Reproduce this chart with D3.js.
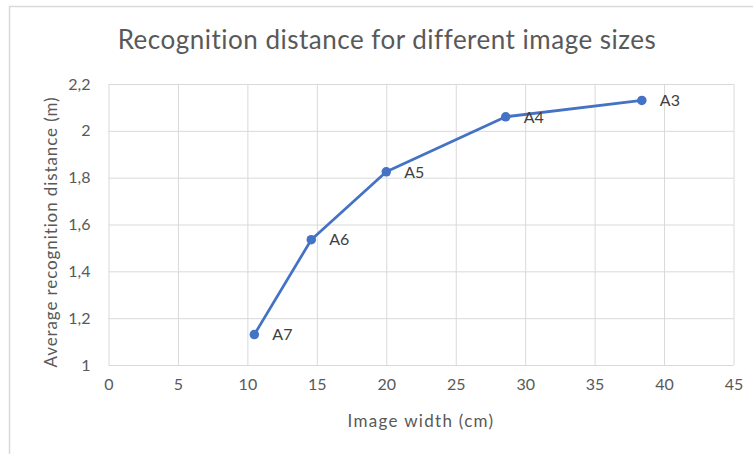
<!DOCTYPE html>
<html>
<head>
	<meta charset="utf-8">
	<script src="https://cdn.jsdelivr.net/npm/d3@7/dist/d3.min.js"></script>
	<title>Recognition distance</title>
	<style>
		body { margin: 0; background: #fff; }
		text { font-family: Lato, "Open Sans", sans-serif; }
	</style>
</head>
<body>
<script>
	// data
	var sizeNames = ['A7', 'A6', 'A5', 'A4', 'A3'];
	var imageWidth = [10.5, 14.6, 20.0, 28.6, 38.4];
	var recognitionDistance = [1.13, 1.535, 1.825, 2.06, 2.13];
	var xTicks = [0, 5, 10, 15, 20, 25, 30, 35, 40, 45];
	var yTicks = [1, 1.2, 1.4, 1.6, 1.8, 2, 2.2];

	var svgWidth = 753, svgHeight = 454;
	var plotLeft = 108.5, plotRight = 733.5, plotTop = 84, plotBottom = 365;

	var svg = d3.select('body').append('svg')
		.attr('width', svgWidth)
		.attr('height', svgHeight);

	// chart frame (only top & left edge visible in the crop)
	svg.append('path')
		.attr('d', 'M9.5,' + svgHeight + 'V6.5H' + svgWidth)
		.attr('fill', 'none')
		.attr('stroke', '#d9d9d9')
		.attr('stroke-width', 1.5);

	var xScale = d3.scaleLinear().domain([0, 45]).range([plotLeft, plotRight]);
	var yScale = d3.scaleLinear().domain([1, 2.2]).range([plotBottom, plotTop]);

	var comma = d3.formatLocale({ decimal: ',', thousands: '.', grouping: [3], currency: ['', ''] }).format('~g');

	// gridlines
	svg.append('g')
		.attr('transform', 'translate(0,' + plotBottom + ')')
		.call(d3.axisBottom(xScale).tickValues(xTicks).tickSize(-(plotBottom - plotTop)).tickFormat(''))
		.call(function (g) {
			g.select('.domain').remove();
			g.selectAll('line').attr('stroke', '#d9d9d9');
		});

	svg.append('g')
		.attr('transform', 'translate(' + plotLeft + ',0)')
		.call(d3.axisLeft(yScale).tickValues(yTicks).tickSize(-(plotRight - plotLeft)).tickFormat(''))
		.call(function (g) {
			g.select('.domain').remove();
			g.selectAll('line').attr('stroke', '#d9d9d9');
		});

	// tick labels
	svg.append('g')
		.attr('transform', 'translate(0,' + plotBottom + ')')
		.call(d3.axisBottom(xScale).tickValues(xTicks).tickSize(0).tickPadding(14))
		.call(function (g) {
			g.select('.domain').remove();
			g.selectAll('text').attr('fill', '#595959').attr('font-size', 16).attr('font-family', 'Lato');
		});

	svg.append('g')
		.attr('transform', 'translate(' + plotLeft + ',0)')
		.call(d3.axisLeft(yScale).tickValues(yTicks).tickSize(0).tickPadding(18).tickFormat(comma))
		.call(function (g) {
			g.select('.domain').remove();
			g.selectAll('text').attr('fill', '#595959').attr('font-size', 16).attr('font-family', 'Lato');
		});

	// title and axis titles
	svg.append('text')
		.attr('x', 387)
		.attr('y', 49)
		.attr('text-anchor', 'middle')
		.attr('font-size', 26)
		.attr('letter-spacing', 0.5)
		.attr('fill', '#595959')
		.text('Recognition distance for different image sizes');

	svg.append('text')
		.attr('x', 421)
		.attr('y', 427)
		.attr('text-anchor', 'middle')
		.attr('font-size', 17)
		.attr('letter-spacing', 1.3)
		.attr('fill', '#595959')
		.text('Image width (cm)');

	svg.append('text')
		.attr('transform', 'translate(57,' + 232 + ') rotate(-90)')
		.attr('text-anchor', 'middle')
		.attr('font-size', 17)
		.attr('letter-spacing', 0.9)
		.attr('fill', '#595959')
		.text('Average recognition distance (m)');

	// the series
	var points = imageWidth.map(function (w, i) {
		return { x: w, y: recognitionDistance[i], name: sizeNames[i] };
	});

	var line = d3.line()
		.x(function (d) { return xScale(d.x); })
		.y(function (d) { return yScale(d.y); });

	svg.append('path')
		.datum(points)
		.attr('d', line)
		.attr('fill', 'none')
		.attr('stroke', '#4472c4')
		.attr('stroke-width', 2.75)
		.attr('stroke-linejoin', 'round');

	svg.selectAll('circle.pt')
		.data(points)
		.enter()
		.append('circle')
		.attr('class', 'pt')
		.attr('cx', function (d) { return xScale(d.x); })
		.attr('cy', function (d) { return yScale(d.y); })
		.attr('r', 4.75)
		.attr('fill', '#4472c4');

	svg.selectAll('text.lbl')
		.data(points)
		.enter()
		.append('text')
		.attr('class', 'lbl')
		.attr('x', function (d) { return xScale(d.x) + 18; })
		.attr('y', function (d) { return yScale(d.y); })
		.attr('dy', '0.36em')
		.attr('font-size', 16)
		.attr('fill', '#404040')
		.text(function (d) { return d.name; });
</script>
</body>
</html>
